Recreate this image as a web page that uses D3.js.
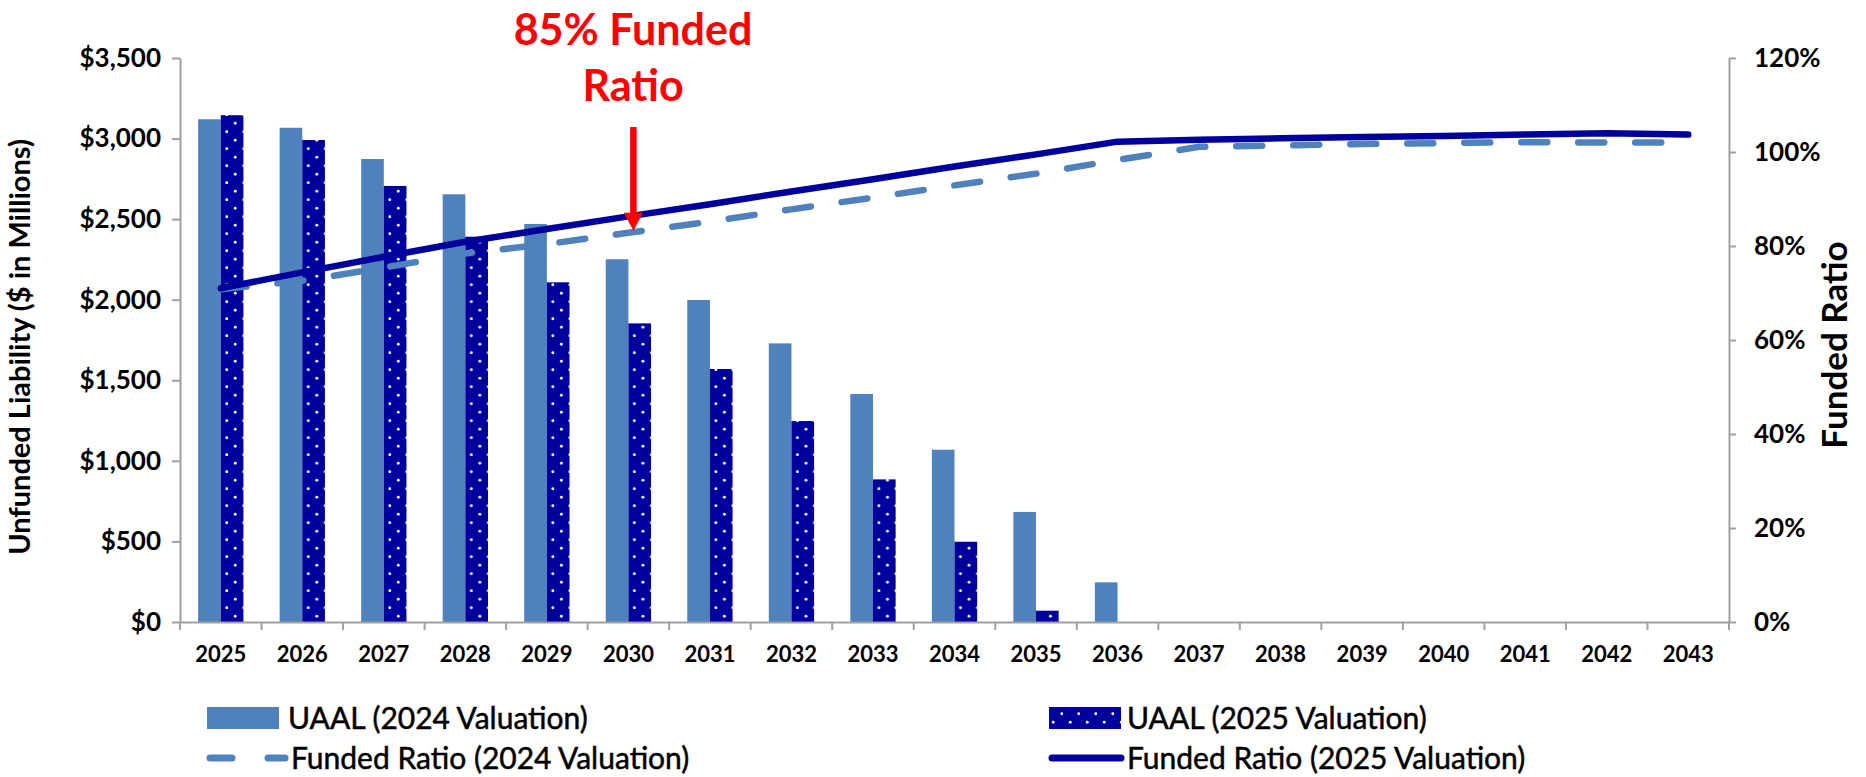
<!DOCTYPE html>
<html>
<head>
<meta charset="utf-8">
<script src="https://cdn.jsdelivr.net/npm/d3@7"></script>
<style>
  body { margin: 0; background: #fff; }
  svg text { font-family: Lato, "Open Sans", sans-serif; fill: #000; }
</style>
</head>
<body>
<svg id="chart" width="1866" height="777"></svg>
<script>
// values
const years = ["2025", "2026", "2027", "2028", "2029", "2030", "2031", "2032", "2033", "2034",
               "2035", "2036", "2037", "2038", "2039", "2040", "2041", "2042", "2043"];
const uaal2024 = [3120, 3067, 2873, 2654, 2470, 2251, 1998, 1729, 1415, 1069, 683, 246, 0, 0, 0, 0, 0, 0, 0];
const uaal2025 = [3145, 2991, 2706, 2391, 2108, 1853, 1570, 1247, 885, 498, 70, 0, 0, 0, 0, 0, 0, 0, 0];
const funded2024 = [70.8, 72.6, 75.4, 78.4, 80.4, 82.8, 85.2, 87.8, 90.3, 92.9, 95.4, 98.3, 101.1, 101.4, 101.7, 101.9, 102.1, 102.0, 102.0];
const funded2025 = [71.0, 74.4, 77.7, 80.9, 83.6, 86.3, 88.9, 91.6, 94.2, 96.9, 99.5, 102.2, 102.6, 102.9, 103.2, 103.4, 103.7, 104.0, 103.7];
const dollarTicks = [0, 500, 1000, 1500, 2000, 2500, 3000, 3500];
const pctTicks = [0, 20, 40, 60, 80, 100, 120];

const lightBlue = "#4F81BD";
const navy = "#00009C";
const axisGray = "#A0A0A0";

const svg = d3.select("#chart");
const plot = { left: 180, right: 1729, top: 58, bottom: 622 };

const x = d3.scaleBand().domain(years).range([plot.left, plot.right]);
const xSub = d3.scaleBand().domain(["v2024", "v2025"])
  .range([0, x.bandwidth()]).paddingInner(0).paddingOuter(0.8);
const yL = d3.scaleLinear().domain([0, 3500]).range([plot.bottom, plot.top]);
const yR = d3.scaleLinear().domain([0, 120]).range([plot.bottom, plot.top]);

// dotted fill for the 2025 bars
const defs = svg.append("defs");
const pat = defs.append("pattern")
  .attr("id", "dots")
  .attr("patternUnits", "userSpaceOnUse")
  .attr("width", 17).attr("height", 17);
pat.append("rect").attr("width", 17).attr("height", 17).attr("fill", navy);
pat.append("circle").attr("cx", 4.25).attr("cy", 4.25).attr("r", 1.4).attr("fill", "#fff");
pat.append("circle").attr("cx", 12.75).attr("cy", 12.75).attr("r", 1.4).attr("fill", "#fff");

// bars
const barData = years.map((yr, i) => ({ year: yr, v2024: uaal2024[i], v2025: uaal2025[i] }));
const groups = svg.append("g").attr("class", "bars")
  .selectAll("g").data(barData).enter().append("g")
  .attr("transform", d => `translate(${x(d.year)},0)`);

groups.filter(d => d.v2024 > 0).append("rect")
  .attr("x", xSub("v2024"))
  .attr("width", xSub.bandwidth())
  .attr("y", d => yL(d.v2024))
  .attr("height", d => yL(0) - yL(d.v2024))
  .attr("fill", lightBlue);

groups.filter(d => d.v2025 > 0).append("rect")
  .attr("x", xSub("v2025"))
  .attr("width", xSub.bandwidth())
  .attr("y", d => yL(d.v2025))
  .attr("height", d => yL(0) - yL(d.v2025))
  .attr("fill", "url(#dots)");

// axes
const leftAxis = svg.append("g")
  .attr("transform", `translate(${plot.left},0)`)
  .call(d3.axisLeft(yL).tickValues(dollarTicks).tickSizeInner(8).tickSizeOuter(0).tickPadding(11)
    .tickFormat(d => "$" + d3.format(",")(d)));

const rightAxis = svg.append("g")
  .attr("transform", `translate(${plot.right},0)`)
  .call(d3.axisRight(yR).tickValues(pctTicks).tickSizeInner(7).tickSizeOuter(0).tickPadding(18)
    .tickFormat(d => d + "%"));

const bottomAxis = svg.append("g")
  .attr("transform", `translate(0,${plot.bottom})`)
  .call(d3.axisBottom(x).tickSize(0).tickPadding(24));

// category boundary ticks
svg.append("g").selectAll("line")
  .data(years.map(y => x(y)).concat([plot.right]))
  .enter().append("line")
  .attr("x1", d => d).attr("x2", d => d)
  .attr("y1", plot.bottom).attr("y2", plot.bottom + 8)
  .attr("stroke", axisGray).attr("stroke-width", 2);

[leftAxis, rightAxis, bottomAxis].forEach(a => {
  a.select(".domain").attr("stroke", axisGray).attr("stroke-width", 2);
  a.selectAll(".tick line").attr("stroke", axisGray).attr("stroke-width", 2);
  a.selectAll("text").attr("font-family", null).style("font-weight", "bold");
});
leftAxis.selectAll("text").style("font-size", "26px");
rightAxis.selectAll("text").style("font-size", "26px");
bottomAxis.selectAll("text").style("font-size", "22px");

// funded ratio lines
const cx = yr => x(yr) + x.bandwidth() / 2;
const line = d3.line().x(d => cx(d[0])).y(d => yR(d[1]));

svg.append("path")
  .datum(years.map((yr, i) => [yr, funded2024[i]]))
  .attr("d", line)
  .attr("fill", "none")
  .attr("stroke", lightBlue)
  .attr("stroke-width", 6.5)
  .attr("stroke-linecap", "round")
  .attr("stroke-dasharray", "26 31");

svg.append("path")
  .datum(years.map((yr, i) => [yr, funded2025[i]]))
  .attr("d", line)
  .attr("fill", "none")
  .attr("stroke", navy)
  .attr("stroke-width", 6.5)
  .attr("stroke-linecap", "round")
  .attr("stroke-linejoin", "round");

// axis titles
svg.append("text")
  .attr("transform", "translate(30,347) rotate(-90)")
  .attr("text-anchor", "middle")
  .style("font-size", "29px").style("font-weight", "bold")
  .text("Unfunded Liability ($ in Millions)");

svg.append("text")
  .attr("transform", "translate(1847,345) rotate(-90)")
  .attr("text-anchor", "middle")
  .style("font-size", "35px").style("font-weight", "bold")
  .text("Funded Ratio");

// 85% annotation
const arrowX = cx("2030") + 5;
const tipY = yR(funded2024[5]) - 2;
const ann = svg.append("g").attr("fill", "#FF0000");
ann.append("text").attr("x", 633).attr("y", 45).attr("text-anchor", "middle")
  .style("font-size", "43px").style("font-weight", "bold").style("fill", "#FF0000")
  .text("85% Funded");
ann.append("text").attr("x", 633).attr("y", 101).attr("text-anchor", "middle")
  .style("font-size", "43px").style("font-weight", "bold").style("fill", "#FF0000")
  .text("Ratio");
ann.append("rect").attr("x", arrowX - 3.25).attr("y", 127).attr("width", 6.5).attr("height", tipY - 18 - 127 + 1);
ann.append("path").attr("d", `M${arrowX - 9.5},${tipY - 18} L${arrowX + 9.5},${tipY - 18} L${arrowX},${tipY} Z`);

// legend
const legend = svg.append("g").attr("class", "legend");
const legendText = (g, tx, label) => g.append("text")
  .attr("x", tx).attr("dy", "0.35em")
  .style("font-size", "30px")
  .style("stroke", "#000").style("stroke-width", 0.5)
  .text(label);

const leg1 = legend.append("g").attr("transform", "translate(207,718)");
leg1.append("rect").attr("x", 0).attr("y", -11).attr("width", 72).attr("height", 22).attr("fill", lightBlue);
legendText(leg1, 81, "UAAL (2024 Valuation)");

const leg2 = legend.append("g").attr("transform", "translate(1049,718)");
leg2.append("rect").attr("x", 0).attr("y", -11).attr("width", 72).attr("height", 22).attr("fill", "url(#dots)");
legendText(leg2, 78, "UAAL (2025 Valuation)");

const leg3 = legend.append("g").attr("transform", "translate(207,758)");
leg3.append("line").attr("x1", 3).attr("x2", 78).attr("stroke", lightBlue).attr("stroke-width", 7)
  .attr("stroke-linecap", "round").attr("stroke-dasharray", "22 36");
legendText(leg3, 84, "Funded Ratio (2024 Valuation)");

const leg4 = legend.append("g").attr("transform", "translate(1049,758)");
leg4.append("line").attr("x1", 3).attr("x2", 72).attr("stroke", navy).attr("stroke-width", 7)
  .attr("stroke-linecap", "round");
legendText(leg4, 78, "Funded Ratio (2025 Valuation)");
</script>
</body>
</html>
